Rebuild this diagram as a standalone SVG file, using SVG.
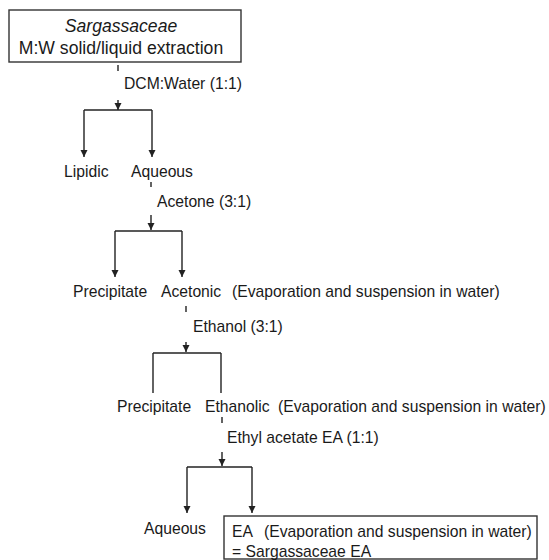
<svg xmlns="http://www.w3.org/2000/svg" width="549" height="560" viewBox="0 0 549 560">
<style>
text{font-family:"Liberation Sans",Arial,sans-serif;fill:#1a1a1a;font-size:15.7px}
.big{font-size:17.6px}
.box{fill:#fff;stroke:#333;stroke-width:1.4}
.ln{stroke:#222;stroke-width:1.4;fill:none}
.ar{stroke:#222;stroke-width:1.4;fill:none;marker-end:url(#ah)}
</style>
<defs>
<marker id="ah" markerUnits="userSpaceOnUse" markerWidth="8" markerHeight="8" refX="7" refY="3.5" orient="auto">
<path d="M0,0 L7,3.5 L0,7 z" fill="#222"/>
</marker>
</defs>
<rect width="549" height="560" fill="#fff"/>
<g id="connectors">
<line class="ln" x1="118" y1="65" x2="118" y2="71"/>
<line class="ar" x1="118" y1="100" x2="118" y2="110"/>
<line class="ln" x1="84" y1="110" x2="152" y2="110"/>
<line class="ar" x1="84" y1="110" x2="84" y2="157"/>
<line class="ar" x1="152" y1="110" x2="152" y2="157"/>
<line class="ln" x1="151" y1="182" x2="151" y2="187"/>
<line class="ar" x1="151" y1="215" x2="151" y2="230"/>
<line class="ln" x1="115" y1="231" x2="182" y2="231"/>
<line class="ar" x1="115" y1="231" x2="115" y2="277"/>
<line class="ar" x1="182" y1="231" x2="182" y2="277"/>
<line class="ln" x1="186" y1="306" x2="186" y2="312"/>
<line class="ar" x1="186" y1="342" x2="186" y2="352"/>
<line class="ln" x1="153" y1="353" x2="221" y2="353"/>
<line class="ln" x1="153" y1="353" x2="153" y2="393"/>
<line class="ln" x1="221" y1="353" x2="221" y2="393"/>
<line class="ln" x1="222" y1="417" x2="222" y2="423"/>
<line class="ar" x1="222" y1="452" x2="222" y2="466"/>
<line class="ln" x1="187" y1="467" x2="252" y2="467"/>
<line class="ar" x1="187" y1="467" x2="187" y2="513"/>
<line class="ar" x1="252" y1="467" x2="252" y2="513"/>
</g>
<g id="start">
<rect class="box" x="9" y="10" width="232" height="52"/>
<text class="big" x="121" y="32" text-anchor="middle" font-style="italic">Sargassaceae</text>
<text class="big" x="121" y="54" text-anchor="middle">M:W solid/liquid extraction</text>
</g>
<g id="label-dcm"><text x="124" y="89">DCM:Water (1:1)</text></g>
<g id="lipidic"><text x="64" y="177">Lipidic</text></g>
<g id="aqueous1"><text x="131" y="177">Aqueous</text></g>
<g id="label-acetone"><text x="157" y="207">Acetone (3:1)</text></g>
<g id="precipitate1"><text x="73" y="297">Precipitate</text></g>
<g id="acetonic"><text x="161" y="297">Acetonic</text><text x="232" y="297">(Evaporation and suspension in water)</text></g>
<g id="label-ethanol"><text x="193" y="332">Ethanol (3:1)</text></g>
<g id="precipitate2"><text x="117" y="412">Precipitate</text></g>
<g id="ethanolic"><text x="205" y="412">Ethanolic</text><text x="278" y="412">(Evaporation and suspension in water)</text></g>
<g id="label-ea"><text x="227" y="443">Ethyl acetate EA (1:1)</text></g>
<g id="aqueous2"><text x="144" y="534">Aqueous</text></g>
<g id="ea">
<rect class="box" x="224" y="516" width="313" height="43"/>
<text x="232" y="537">EA<tspan x="264">(Evaporation and suspension in water)</tspan></text>
<text x="232" y="557">= Sargassaceae EA</text>
</g>
</svg>
